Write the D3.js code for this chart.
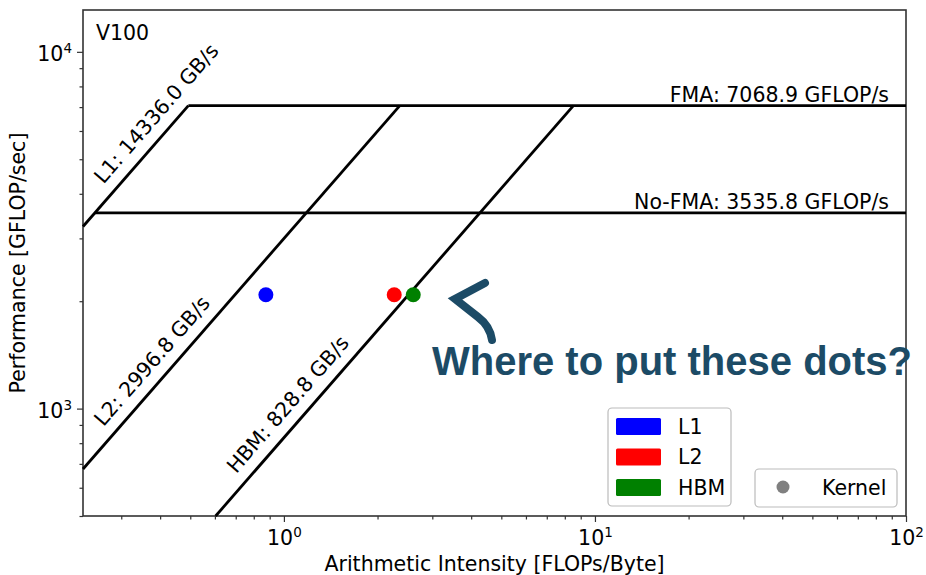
<!DOCTYPE html>
<html>
<head>
<meta charset="utf-8">
<script src="https://cdn.jsdelivr.net/npm/d3@7"></script>
<style>
  html, body { margin: 0; padding: 0; background: #fff; }
  svg { display: block; }
  text { font-family: "DejaVu Sans", sans-serif; }
</style>
</head>
<body>
<svg id="chart" width="926" height="575"></svg>
<script>
// Roofline ceilings for the V100
const machineName = "V100";
const memRoofNames = ["L1", "L2", "HBM"];
const memRoofs = [14336.0, 2996.8, 828.8];          // GB/s
const compRoofNames = ["FMA", "No-FMA"];
const compRoofs = [7068.9, 3535.8];                 // GFLOP/s

// Kernel measured against each memory level
const kernelLevels = ["L1", "L2", "HBM"];
const kernelAI = [0.875, 2.263, 2.605];             // FLOPs/Byte
const kernelPerf = [2086, 2086, 2086];              // GFLOP/s
const levelColors = ["#0000ff", "#ff0000", "#008000"];

// Axis extents and major ticks
const xDomain = [0.226, 100];
const yDomain = [500, 13100];
const xMajorTicks = [1, 10, 100];
const yMajorTicks = [1000, 10000];

const W = 926, H = 575;
const m = { left: 83, right: 20, top: 10, bottom: 59 };
const svg = d3.select("#chart");

const x = d3.scaleLog().domain(xDomain).range([m.left, W - m.right]);
const y = d3.scaleLog().domain(yDomain).range([H - m.bottom, m.top]);

// minor ticks 2..9 x 10^k inside the domain
function minorTicks(domain) {
  const out = [];
  for (let e = Math.floor(Math.log10(domain[0])); e <= Math.ceil(Math.log10(domain[1])); e++) {
    for (let k = 2; k <= 9; k++) {
      const v = k * Math.pow(10, e);
      if (v >= domain[0] && v <= domain[1]) out.push(v);
    }
  }
  return out;
}

function superscriptLabels(sel, yOff) {
  sel.selectAll(".tick text").each(function (d) {
    const t = d3.select(this);
    t.text(null).attr("dy", null).attr("y", yOff).style("font-size", "20.5px")
      .style("font-family", "DejaVu Sans").attr("fill", "#000");
    t.append("tspan").text("10");
    t.append("tspan").attr("dy", -8).style("font-size", "13.5px").text(Math.round(Math.log10(d)));
  });
}

const axisColor = "#333";

// x axis
const gxMinor = svg.append("g").attr("transform", `translate(0,${H - m.bottom})`)
  .call(d3.axisBottom(x).tickValues(minorTicks(xDomain)).tickSize(3.5).tickSizeOuter(0).tickFormat(""));
const gx = svg.append("g").attr("transform", `translate(0,${H - m.bottom})`)
  .call(d3.axisBottom(x).tickValues(xMajorTicks).tickSize(6).tickSizeOuter(0).tickPadding(4));
superscriptLabels(gx, 29);

// y axis
const gyMinor = svg.append("g").attr("transform", `translate(${m.left},0)`)
  .call(d3.axisLeft(y).tickValues(minorTicks(yDomain)).tickSize(3.5).tickSizeOuter(0).tickFormat(""));
const gy = svg.append("g").attr("transform", `translate(${m.left},0)`)
  .call(d3.axisLeft(y).tickValues(yMajorTicks).tickSize(6).tickSizeOuter(0).tickPadding(5));
gy.selectAll(".tick text").attr("x", -11).attr("text-anchor", "end");
superscriptLabels(gy, 9);

[gx, gxMinor, gy, gyMinor].forEach(g => {
  g.select(".domain").remove();
  g.selectAll(".tick line").attr("stroke", axisColor).attr("stroke-width", 1.2);
});

// plot frame
svg.append("rect")
  .attr("x", m.left).attr("y", m.top)
  .attr("width", W - m.left - m.right).attr("height", H - m.top - m.bottom)
  .attr("fill", "none").attr("stroke", axisColor).attr("stroke-width", 1.6);

// axis titles
svg.append("text")
  .attr("x", (m.left + W - m.right) / 2).attr("y", 571)
  .attr("text-anchor", "middle").style("font-size", "20.5px")
  .text("Arithmetic Intensity [FLOPs/Byte]");
svg.append("text")
  .attr("transform", `translate(25,${(m.top + H - m.bottom) / 2}) rotate(-90)`)
  .attr("text-anchor", "middle").style("font-size", "20.5px")
  .text("Performance [GFLOP/sec]");

svg.append("text").attr("x", 96).attr("y", 40).style("font-size", "20.5px").text(machineName);

// rooflines
const roofs = svg.append("g");
const line = d3.line().x(d => x(d[0])).y(d => y(d[1]));
const peak = d3.max(compRoofs);
const maxBw = d3.max(memRoofs);

memRoofs.forEach((bw, i) => {
  const x0 = Math.max(xDomain[0], yDomain[0] / bw);
  const x1 = peak / bw;
  roofs.append("path").datum([[x0, bw * x0], [x1, bw * x1]])
    .attr("d", line).attr("fill", "none").attr("stroke", "#000").attr("stroke-width", 2.8);

  // label laid along the slope, a little above it
  const px = x(x0), py = y(bw * x0);
  const ang = Math.atan2(y(bw * x1) - py, x(x1) - px);
  const along = 45, off = 12;
  const tx = px + along * Math.cos(ang) + off * Math.sin(ang);
  const ty = py + along * Math.sin(ang) - off * Math.cos(ang);
  roofs.append("text")
    .attr("transform", `translate(${tx},${ty}) rotate(${ang * 180 / Math.PI})`)
    .style("font-size", "20.5px")
    .text(`${memRoofNames[i]}: ${bw.toFixed(1)} GB/s`);
});

compRoofs.forEach((f, i) => {
  const x0 = f / maxBw;
  roofs.append("path").datum([[x0, f], [xDomain[1], f]])
    .attr("d", line).attr("fill", "none").attr("stroke", "#000").attr("stroke-width", 2.8);
  roofs.append("text")
    .attr("x", x(xDomain[1]) - 17).attr("y", y(f) - 4)
    .attr("text-anchor", "end").style("font-size", "20.5px")
    .text(`${compRoofNames[i]}: ${f.toFixed(1)} GFLOP/s`);
});

// kernel points
svg.append("g").selectAll("circle")
  .data(kernelAI.map((ai, i) => ({ ai, perf: kernelPerf[i], c: levelColors[i] })))
  .join("circle")
  .attr("cx", d => x(d.ai)).attr("cy", d => y(d.perf))
  .attr("r", 7.5).attr("fill", d => d.c);

// legend: memory levels
const leg = svg.append("g");
leg.append("rect").attr("x", 608).attr("y", 408).attr("width", 123).attr("height", 98)
  .attr("rx", 4).attr("fill", "#fff").attr("stroke", "#bbb").attr("stroke-width", 1.2);
kernelLevels.forEach((name, i) => {
  const yy = 418 + i * 30.5;
  leg.append("rect").attr("x", 616).attr("y", yy).attr("width", 45).attr("height", 17)
    .attr("rx", 1.5).attr("fill", levelColors[i]);
  leg.append("text").attr("x", 678).attr("y", yy + 15.5).style("font-size", "20.5px").text(name);
});

// legend: marker
const leg2 = svg.append("g");
leg2.append("rect").attr("x", 755).attr("y", 469).attr("width", 142).attr("height", 38)
  .attr("rx", 4).attr("fill", "#fff").attr("stroke", "#bbb").attr("stroke-width", 1.2);
leg2.append("circle").attr("cx", 783).attr("cy", 487).attr("r", 6.5).attr("fill", "#808080");
leg2.append("text").attr("x", 822).attr("y", 495).style("font-size", "20.5px").text("Kernel");

// callout
const callColor = "#1c4b66";
svg.append("path")
  .attr("d", "M485,283 L455,299 L478,317 Q490,326 492,340")
  .attr("fill", "none").attr("stroke", callColor).attr("stroke-width", 8)
  .attr("stroke-linecap", "round").attr("stroke-linejoin", "miter");
svg.append("text")
  .attr("x", 432).attr("y", 375)
  .style("font-family", "'Liberation Sans', Arial, sans-serif")
  .style("font-weight", "bold").style("font-size", "40px")
  .style("fill", callColor)
  .text("Where to put these dots?");
</script>
</body>
</html>
